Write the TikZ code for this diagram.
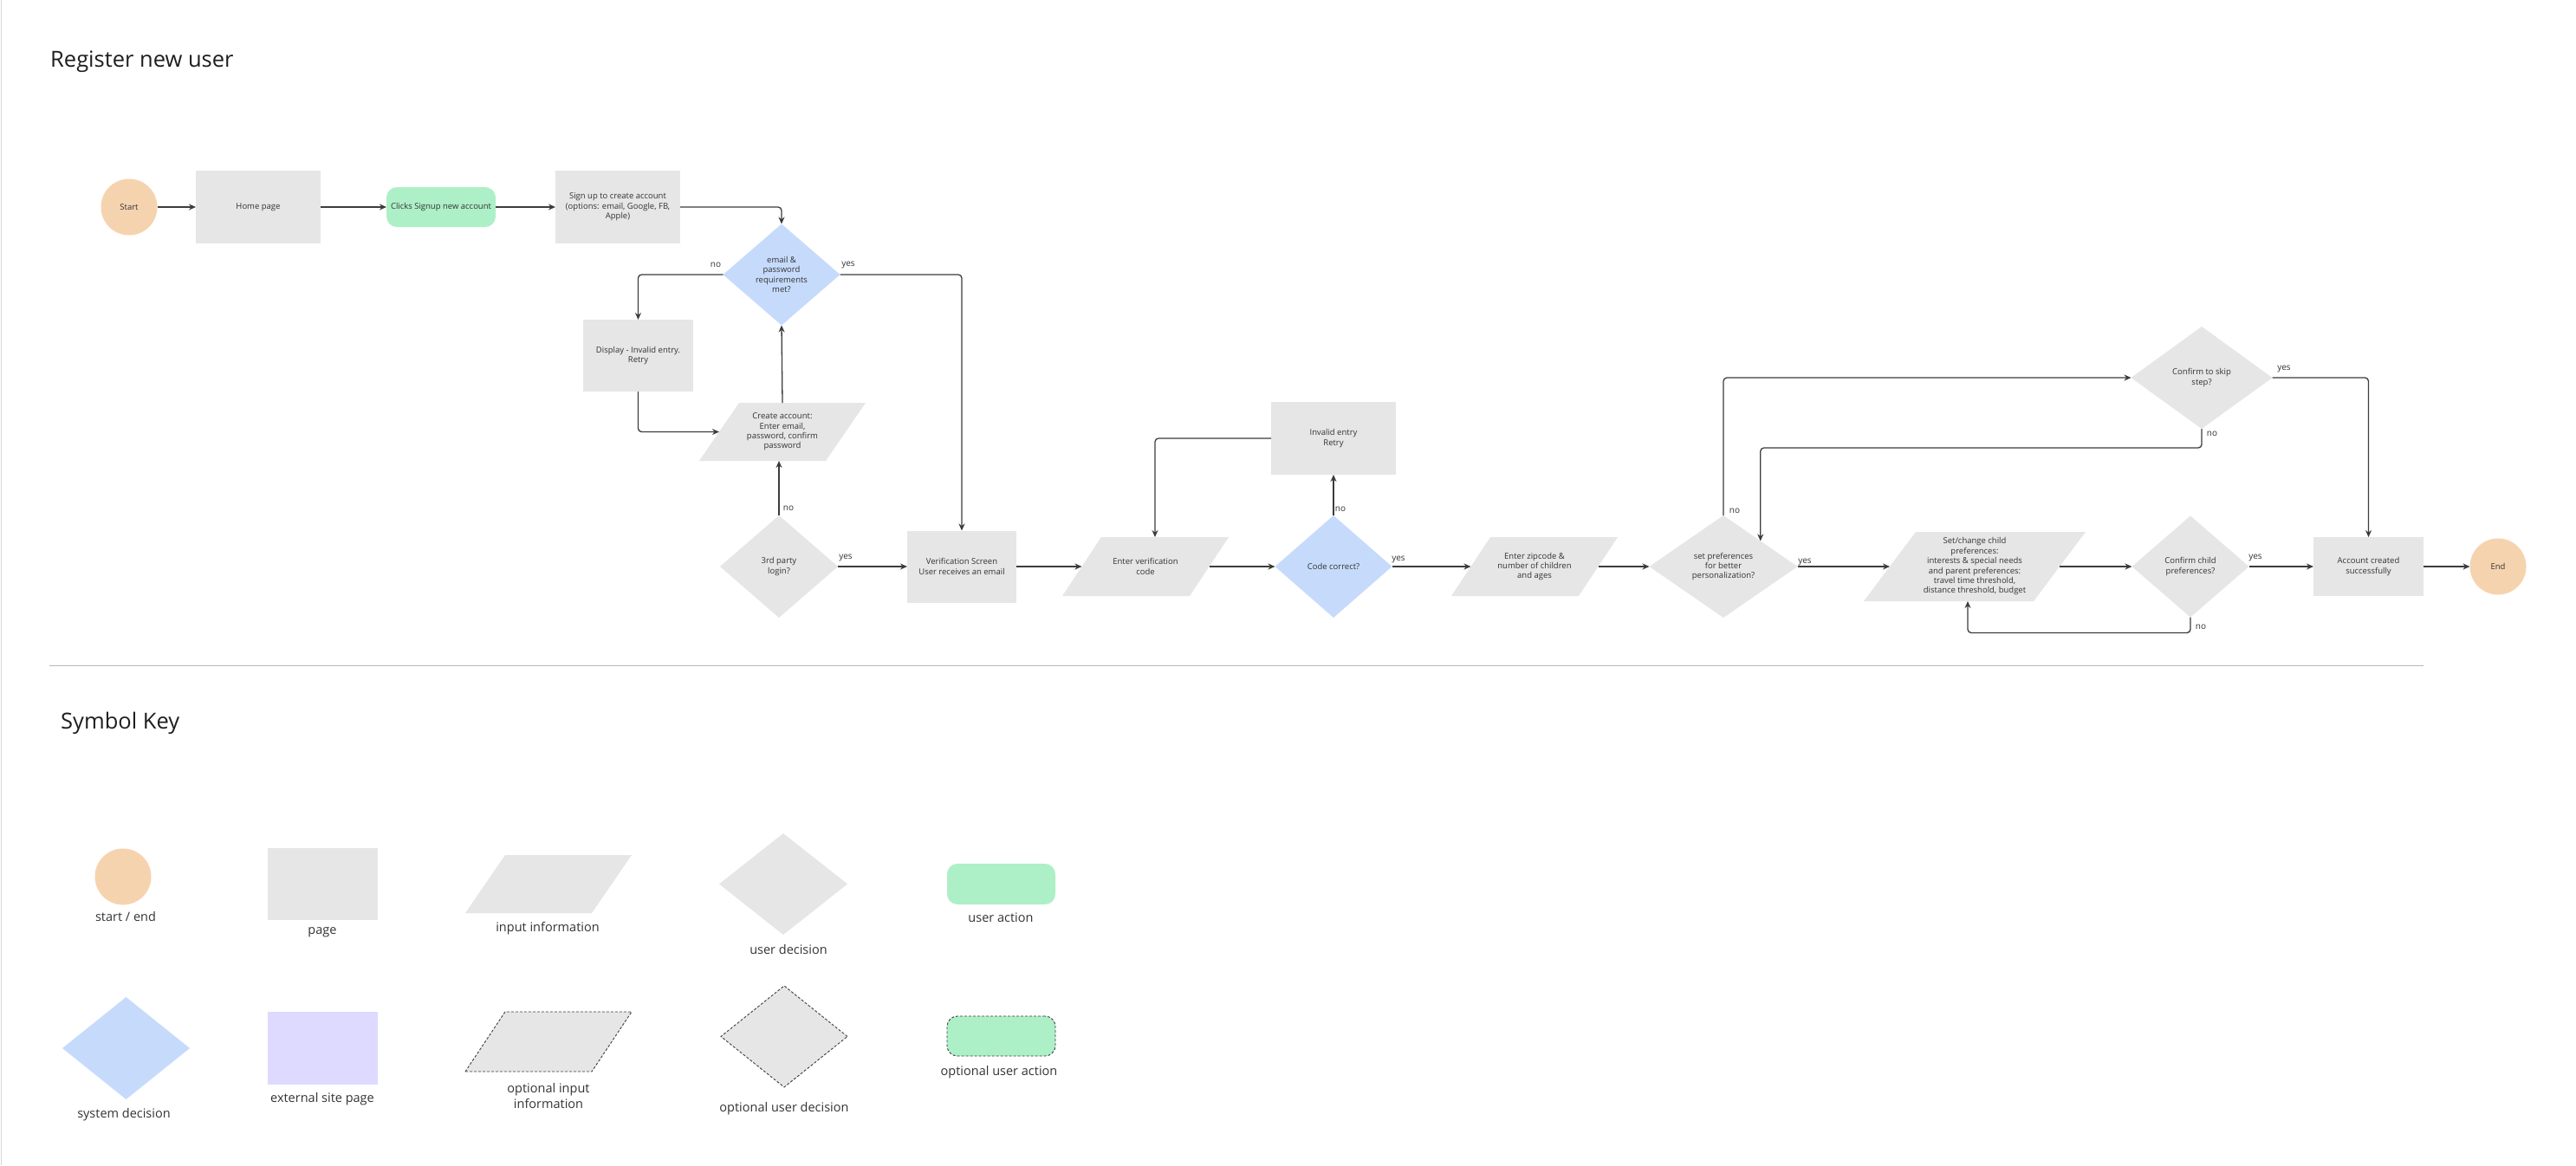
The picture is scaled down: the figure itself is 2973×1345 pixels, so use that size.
\documentclass[tikz,border=0pt]{standalone}
\usepackage{fontspec}
\setmainfont{Open Sans}
\usetikzlibrary{shapes.geometric,arrows.meta,calc,backgrounds}
\definecolor{peach}{HTML}{F6D3AF}
\definecolor{shapegray}{HTML}{E6E6E6}
\definecolor{mint}{HTML}{ADF0C7}
\definecolor{skyblue}{HTML}{C6DBFC}
\definecolor{lavend}{HTML}{DEDAFF}
\definecolor{inkline}{HTML}{3C3C3C}
\definecolor{inktext}{HTML}{333333}
\definecolor{titleink}{HTML}{1E1E1E}
\newcommand\myNodeFont{\fontsize{9.5pt}{11.4pt}\selectfont}
\newcommand\myLblFont{\fontsize{10pt}{12pt}\selectfont}
\newcommand\myKeyFont{\fontsize{14.5pt}{18pt}\selectfont}
\newcommand\myTitleFont{\fontsize{25.5pt}{30pt}\selectfont}
\begin{document}
\begin{tikzpicture}[x=1pt,y=-1pt,
  base/.style={inner sep=0pt, outer sep=0pt, text=inktext, font=\myNodeFont, align=center},
  terminal/.style={base, circle, fill=peach, minimum size=65pt},
  page/.style={base, rectangle, fill=shapegray},
  uact/.style={base, rectangle, rounded corners=12pt, fill=mint},
  para/.style={base, rectangle},
  udec/.style={base, diamond, fill=shapegray, aspect=1},
  sdec/.style={base, diamond, fill=skyblue, aspect=1},
  lbl/.style={inner sep=0pt, text=inktext, font=\myLblFont},
  keylbl/.style={inner sep=0pt, text=inktext, font=\myKeyFont, align=center},
  ttl/.style={anchor=base west, inner sep=0pt, text=titleink, font=\myTitleFont},
  flow/.style={draw=inkline, line width=1.3pt, rounded corners=4pt, -{Stealth[length=8pt,width=7pt]}},
  optline/.style={draw=inkline, line width=0.9pt, dash pattern=on 3pt off 2pt},
]
\useasboundingbox (0,0) rectangle (2973,1345);

% titles
\node[ttl] (title) at (58,77) {Register new user};
\node[ttl] (keytitle) at (70,841) {Symbol Key};

% frame edge and separator
\draw[gray!30, line width=1pt] (1,0) -- (1,1345);
\draw[gray!55, line width=1pt] (57,768) -- (2797,768);

% ---------- flow nodes ----------
\node[terminal] (start) at (149,239) {Start};
\node[page, minimum width=144pt, minimum height=84pt] (home) at (298,239) {Home page};
\node[uact, minimum width=126pt, minimum height=46pt] (clicks) at (509,239) {Clicks Signup new account};
\node[page, minimum width=144pt, minimum height=84pt] (signup) at (713,239) {Sign up to create account\\(options: email, Google, FB,\\Apple)};
\node[sdec, minimum width=135pt, minimum height=117pt] (email) at (902,317) {email \&\\password\\requirements\\met?};
\node[page, minimum width=127pt, minimum height=83pt] (display) at (736.5,410.5) {Display - Invalid entry.\\Retry};
\node[para, minimum width=146pt, minimum height=67pt] (cacc) at (903,498.5) {Create account:\\Enter email,\\password, confirm\\password};
\node[udec, minimum width=136pt, minimum height=118pt] (third) at (899,654) {3rd party\\login?};
\node[page, minimum width=126pt, minimum height=83pt] (verif) at (1110,654) {Verification Screen\\User receives an email};
\node[para, minimum width=147pt, minimum height=68pt] (evc) at (1322,654) {Enter verification\\code};
\node[sdec, minimum width=135pt, minimum height=118pt] (code) at (1539,654) {Code correct?};
\node[page, minimum width=144pt, minimum height=84pt] (invalid) at (1539,506) {Invalid entry\\Retry};
\node[para, minimum width=147pt, minimum height=68pt] (zip) at (1771,654) {Enter zipcode \&\\number of children\\and ages};
\node[udec, minimum width=171pt, minimum height=118pt] (setp) at (1989,654) {set preferences\\for better\\personalization?};
\node[para, minimum width=196pt, minimum height=80pt] (setc) at (2279,654) {Set/change child\\preferences:\\interests \& special needs\\and parent preferences:\\travel time threshold,\\distance threshold, budget};
\node[udec, minimum width=163pt, minimum height=118pt] (skip) at (2541,436) {Confirm to skip\\step?};
\node[udec, minimum width=135pt, minimum height=117pt] (child) at (2528,654) {Confirm child\\preferences?};
\node[page, minimum width=127pt, minimum height=68pt] (acct) at (2733.5,654) {Account created\\successfully};
\node[terminal] (finish) at (2883,654) {End};

% ---------- key nodes ----------
\node[terminal] (kstart) at (142,1012) {};
\node[keylbl] (kstartl) at (145,1058) {start / end};
\node[page, minimum width=127pt, minimum height=83pt] (kpage) at (372.5,1020.5) {};
\node[keylbl] (kpagel) at (372,1076) {page};
\node[para, minimum width=146pt, minimum height=67pt] (kinp) at (633,1020.5) {};
\node[keylbl] (kinpl) at (632,1072) {input information};
\node[udec, minimum width=148pt, minimum height=117pt] (kudec) at (904,1020.5) {};
\node[keylbl] (kudecl) at (910,1096) {user decision};
\node[uact, minimum width=125pt, minimum height=47pt] (kuact) at (1155.5,1020.5) {};
\node[keylbl] (kuactl) at (1155,1059) {user action};
\node[sdec, minimum width=147pt, minimum height=118pt] (ksys) at (145.5,1210) {};
\node[keylbl] (ksysl) at (143,1287) {system decision};
\node[page, fill=lavend, minimum width=127pt, minimum height=84pt] (kext) at (372.5,1210) {};
\node[keylbl] (kextl) at (372,1269) {external site page};
\node[para, minimum width=146pt, minimum height=69pt] (kopt) at (633,1202.5) {};
\node[keylbl] (koptl) at (633,1265) {optional input\\information};
\node[udec, optline, minimum width=146pt, minimum height=117pt] (koud) at (905,1196.5) {};
\node[keylbl] (koudl) at (905,1280) {optional user decision};
\node[uact, optline, minimum width=125pt, minimum height=46pt] (koua) at (1155.5,1196) {};
\node[keylbl] (kpual) at (1153,1238) {optional user action};

% ---------- background: page and parallelograms ----------
\begin{scope}[on background layer]
  \fill[white] (0,0) rectangle (2973,1345);
  \foreach \n/\s in {cacc/23,evc/22.5,zip/22.5,setc/30,kinp/23,kopt/23}
    \fill[shapegray] ($(\n.south west)+(-\s,0)$) -- ($(\n.south east)+(-\s,0)$) -- ($(\n.north east)+(\s,0)$) -- ($(\n.north west)+(\s,0)$) -- cycle;
  \draw[optline] ($(kopt.south west)+(-23,0)$) -- ($(kopt.south east)+(-23,0)$) -- ($(kopt.north east)+(23,0)$) -- ($(kopt.north west)+(23,0)$) -- cycle;
\end{scope}

% ---------- connectors ----------
\draw[flow] (start) -- (home);
\draw[flow] (home) -- (clicks);
\draw[flow] (clicks) -- (signup);
\draw[flow] (signup.east) -| (email.north);
\draw[flow] (email.west) -| (display.north);
\draw[flow] (display.south) |- (cacc.west);
\draw[flow] (cacc.north) -- (email.south);
\draw[flow] (email.east) -| (verif.north);
\draw[flow] (third.north) -- (third.north |- cacc.south);
\draw[flow] (third.east) -- (verif.west);
\draw[flow] (verif) -- (evc);
\draw[flow] (evc) -- (code);
\draw[flow] (code.north) -- (invalid.south);
\draw[flow] (invalid.west) -| ([xshift=11pt]evc.north);
\draw[flow] (code) -- (zip);
\draw[flow] (zip) -- (setp);
\draw[flow] (setp.north) |- (skip.west);
\draw[flow] (skip.south) -- ++(0,22) -| (setp.north east);
\draw[flow] (setp) -- (setc);
\draw[flow] (setc) -- (child);
\draw[flow] (child.south) -- ++(0,18) -| ([xshift=-8pt]setc.south);
\draw[flow] (child) -- (acct);
\draw[flow] (skip.east) -| (acct.north);
\draw[flow] (acct) -- (finish);

% ---------- connector labels ----------
\node[lbl] (lno1) at (826,306) {no};
\node[lbl] (lyes1) at (979,306) {yes};
\node[lbl] (lno2) at (910,587) {no};
\node[lbl] (lyes2) at (976,644) {yes};
\node[lbl] (lno3) at (1547,588) {no};
\node[lbl] (lyes3) at (1614,646) {yes};
\node[lbl] (lno4) at (2002,590) {no};
\node[lbl] (lyes4) at (2083,649) {yes};
\node[lbl] (lno5) at (2553,501) {no};
\node[lbl] (lyes5) at (2636,426) {yes};
\node[lbl] (lyes6) at (2603,644) {yes};
\node[lbl] (lno6) at (2540,724) {no};
\end{tikzpicture}
\end{document}
